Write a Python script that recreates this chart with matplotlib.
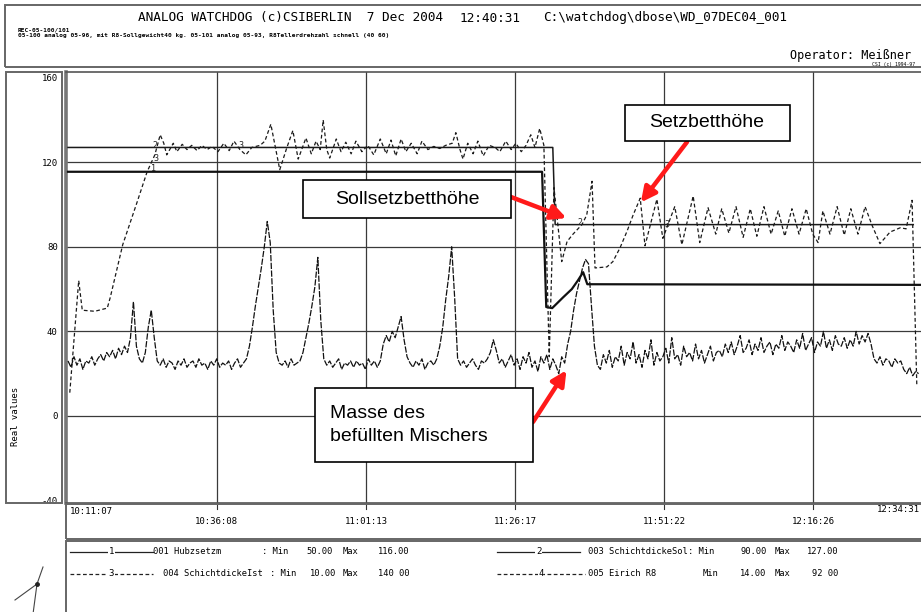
import matplotlib.pyplot as plt
import matplotlib.patches as patches
import matplotlib.transforms as mtrans
from matplotlib.lines import Line2D

plt.rcParams['font.family'] = ['DejaVu Sans Mono']

# --- data ---
start_time = '10:11:07'
tick_times = ['10:36:08', '11:01:13', '11:26:17', '11:51:22', '12:16:26']
end_time = '12:34:31'
y_ticks = [160, 120, 80, 40, 0, -40]

# 001 Hubzsetzm (minutes after start, value)
hub_t = [0.0, 79.7, 80.4, 81.4, 83.2, 84.7, 85.7, 86.6, 87.3, 143.4]
hub_v = [115.5, 115.5, 51.5, 51.0, 56.0, 60.0, 64.0, 68.0, 62.3, 62.0]

# 003 SchichtdickeSol
sol_t = [0.0, 81.5, 81.9, 142.1]
sol_v = [127.0, 127.0, 90.5, 90.5]

# 004 SchichtdickeIst
ist_t = [0.3, 1.8, 2.4, 4.5, 6.6, 7.1, 9.2, 11.6, 13.3, 14.6, 15.5, 16.1, 16.6,
         17.7, 18.3, 19.2, 20.0, 20.8, 21.7, 22.5, 23.4, 24.2, 25.2, 26.2, 27.1,
         27.9, 28.9, 29.9, 30.9, 32.3, 33.1, 34.1, 35.0, 35.6, 36.8, 37.8, 38.7,
         40.0, 40.9, 41.7, 42.4, 42.9, 43.5, 44.0, 45.1, 45.9, 46.7, 47.6, 48.4,
         49.4, 50.4, 51.4, 52.5, 53.5, 54.3, 55.1, 56.0, 56.8, 57.7, 58.7, 59.5,
         60.5, 61.5, 62.5, 63.5, 64.6, 65.2, 65.9, 66.4, 67.2, 68.1, 68.9, 69.8,
         70.8, 71.8, 72.6, 73.6, 74.5, 75.3, 76.2, 77.0, 77.8, 78.5, 79.3, 80.0,
         80.9, 81.7, 83.0, 83.9, 84.9, 86.4, 87.2, 88.1, 88.6, 90.6, 91.6, 92.8,
         94.0, 95.0, 96.2, 97.0, 99.0, 100.0, 102.0, 103.2, 105.1, 106.2, 107.6,
         108.9, 109.9, 111.1, 112.3, 113.5, 114.7, 115.8, 117.0, 118.2, 119.4,
         120.5, 121.7, 122.9, 124.1, 125.2, 126.1, 126.9, 128.1, 129.3, 130.5,
         131.6, 132.8, 134.0, 135.2, 136.5, 138.2, 139.9, 140.9, 141.9, 142.7]
ist_v = [11, 64, 50, 49.5, 51, 56, 81, 101, 115.5, 123.5, 133, 129, 123.5,
         129, 125, 128.5, 126, 128, 125.5, 128, 126, 127.5, 125, 129, 125.5,
         130, 126, 123.5, 127, 128, 130, 138, 125, 116.5, 127, 135, 121.5,
         131.5, 124, 130, 126, 140, 126, 122, 131, 125, 129.5, 124, 130,
         125, 128, 123.5, 131, 124, 130.5, 123, 131, 125, 129, 124, 130,
         126, 127.5, 126.5, 128, 129, 134, 126, 121.5, 129, 124, 130, 123,
         128, 127, 125, 130, 126, 129, 125, 128, 133, 127, 136, 128,
         28, 108, 73, 82.5, 86, 90.5, 95, 111, 70, 70.5, 73, 79.5,
         87.5, 95, 103, 80.5, 102.5, 84, 99, 81, 104, 82, 98.5,
         86, 98, 86.5, 99, 84.5, 98, 85, 99, 86, 97,
         85, 98, 86, 98, 86, 82, 97, 86, 99, 85.5,
         98, 86, 99, 90, 81.5, 87, 89, 88.5, 102, 14]

# 005 Eirich R8, one reading every half minute
eirich_step = 0.5
eirich_v = [26, 23, 28, 24, 27, 22, 26, 25, 28, 24,
            27, 29, 26, 30, 28, 31, 27, 32, 29, 33, 30,
            37, 54, 33, 27, 25, 30, 42, 50, 37, 26,
            24, 27, 23, 26, 25, 22, 26, 24, 27, 23, 25, 26, 23, 27, 24,
            25, 22, 26, 24, 27, 23, 25, 24, 26, 22, 25, 27, 23, 25,
            27, 33, 42, 52, 61, 70, 80, 92, 82, 50, 30, 25,
            24, 26, 23, 27, 24, 25, 26,
            30, 37, 44, 52, 61, 75, 45, 27,
            24, 26, 23, 25, 27, 22, 25, 24, 26, 23, 26, 24, 25, 22, 27, 24, 26, 23, 26,
            34, 38, 35, 40, 37, 42, 47, 36, 28,
            25, 23, 26, 24, 27, 22, 25, 26, 24, 27,
            33, 42, 55, 66, 80, 56, 27,
            24, 26, 23, 25, 27, 24, 22, 26, 25, 27,
            30, 36, 31, 25,
            27, 23, 26, 29, 24, 27, 22, 28, 25, 30, 23, 26, 21, 28, 25, 29, 22, 27, 24, 20, 28, 25,
            34, 40, 50, 58, 64, 70, 74, 72, 52, 33, 24,
            22, 29, 25, 31, 23, 28, 26, 33, 24, 30, 27, 35, 25, 29, 23, 31, 27, 36, 24, 30,
            26, 28, 32, 25, 37, 27, 29, 24, 33, 28, 30, 26, 34, 27, 31, 25, 29, 33, 26, 30,
            31, 28, 34, 30, 35, 29, 33, 38, 30, 32, 36, 29, 34, 31, 37, 30, 33, 35, 29, 34,
            32, 38, 31, 35, 33, 30, 36, 32, 39, 31, 34, 37, 30, 35, 33, 40, 32, 36, 31, 38,
            34, 33, 37, 32,
            36, 33, 40, 34, 38, 35, 39, 34,
            27, 25, 28, 24, 27, 26, 23, 27, 25, 26,
            22, 20, 23, 19, 21, 20]
eirich_t = [i * eirich_step for i in range(len(eirich_v))]

legend_rows = [
    ('001 Hubzsetzm', ': Min', '50.00', '116.00'),
    ('004 SchichtdickeIst', ': Min', '10.00', '140 00'),
    ('003 SchichtdickeSol', ': Min', '90.00', '127.00'),
    ('005 Eirich R8', 'Min', '14.00', '92 00'),
]


def minutes(s):
    h, m, sec = map(int, s.split(':'))
    h0, m0, s0 = map(int, start_time.split(':'))
    return ((h * 3600 + m * 60 + sec) - (h0 * 3600 + m0 * 60 + s0)) / 60.0


W, H = 921, 612
fig = plt.figure(figsize=(9.21, 6.12), dpi=100)


def fx(px):
    return px / W


def fy(py):
    return 1 - py / H


def frame(x0, y0, x1, y1, lw=1.4, color='#666666'):
    fig.add_artist(patches.Rectangle((fx(x0), fy(y1)), fx(x1) - fx(x0), fy(y0) - fy(y1),
                                     transform=fig.transFigure, fill=False, lw=lw, ec=color))


def fline(xs, ys, **kw):
    fig.add_artist(Line2D([fx(x) for x in xs], [fy(y) for y in ys],
                          transform=fig.transFigure, **kw))


def ftext(px, py, s, **kw):
    fig.text(fx(px), fy(py), s, **kw)


# header
frame(5, 5, 930, 67)
ftext(138, 18, 'ANALOG WATCHDOG (c)CSIBERLIN  7 Dec 2004', fontsize=9.2, va='center')
ftext(460, 18, '12:40:31', fontsize=9.2, va='center')
ftext(543, 18, 'C:\\watchdog\\dbose\\WD_07DEC04_001', fontsize=9.2, va='center')
ftext(18, 30, 'REC-05-100/101', fontsize=4.4, fontweight='bold', va='center')
ftext(18, 36, '05-100 analog 05-96, mit R8-Sollgewicht40 kg. 05-101 analog 05-93, '
      'R8Tellerdrehzahl schnell (40 60)', fontsize=4.4, fontweight='bold', va='center')
ftext(790, 56, 'Operator: Meißner', fontsize=8.5, va='center')
ftext(872, 64.5, 'CSI (c) 1994-97', fontsize=3.4, va='center')

# side box with the value scale
frame(6, 72, 62, 503)

# main plot
px_per_min = 853 / minutes(end_time)
x_left = -(68 - 66) / px_per_min
x_right = minutes(end_time) + (930 - 921) / px_per_min
ax_w = fx(930) - fx(66)
ax = fig.add_axes([fx(66), fy(503), ax_w, fy(72) - fy(503)])
ax.set_xlim(x_left, x_right)
ax.set_ylim(-41.2, 162.7)

for v in [0, 40, 80, 120]:
    ax.axhline(v, color='#3a3a3a', lw=0.9, zorder=1)
for t in tick_times:
    ax.axvline(minutes(t), color='#3a3a3a', lw=0.9, zorder=1)

ax.plot(sol_t, sol_v, color='#1a1a1a', lw=1.1, zorder=3)
ax.plot(hub_t, hub_v, color='#111111', lw=1.6, zorder=3)
ax.plot(ist_t, ist_v, color='#1a1a1a', lw=0.9, dashes=(3, 2), zorder=3)
ax.plot(eirich_t, eirich_v, color='#111111', lw=0.9, dashes=(5, 1.2), zorder=3)

# plotter curve numbers
for t, v, s in [(14.3, 117, '1'), (14.6, 128, '2'), (14.8, 122, '3'),
                (29.0, 128, '3'), (86.1, 91.5, '2'), (100.7, 90.5, '3')]:
    ax.text(t, v, s, fontsize=6, ha='center', va='center', color='#222222', zorder=4)

ax.set_yticks(y_ticks)
ax.set_yticklabels([str(v) for v in y_ticks], fontsize=6.5)
ax.tick_params(axis='y', length=0, pad=6)
ax.set_xticks([])
ax.set_ylabel('Real values', fontsize=6.5, labelpad=0)
ax.yaxis.set_label_coords((fx(20) - fx(66)) / ax_w, 0.2, transform=ax.transAxes)
for side in ['top', 'bottom']:
    ax.spines[side].set_color('#555555')
    ax.spines[side].set_linewidth(1.2)
ax.spines['left'].set_color('#777777')
ax.spines['left'].set_linewidth(2.6)
ax.spines['right'].set_visible(False)

# time scale box
frame(66, 504, 930, 539)
blend = mtrans.blended_transform_factory(ax.transData, fig.transFigure)
for t in tick_times:
    fig.text(minutes(t), fy(522), t, transform=blend, fontsize=6.5, ha='center', va='center')
    fig.add_artist(Line2D([minutes(t), minutes(t)], [fy(505), fy(509)], transform=blend,
                          color='#333333', lw=0.8))
ftext(70, 512, start_time, fontsize=6.5, va='center')
ftext(920, 509, end_time, fontsize=6.5, ha='right', va='center')

# legend box
frame(66, 541, 930, 640)
rows_pos = [(70, 153, 552, '-', '1'), (70, 153, 574, '--', '3'),
            (497, 580, 552, '-', '2'), (497, 585, 574, '--', '4')]
text_x = [(153, 262, 306, 343, 378), (163, 270, 310, 343, 378),
          (588, 688, 740, 775, 807), (588, 703, 740, 775, 812)]
for (x0, x1, py, ls, mark), (name, mn, lo, hi), (tx, mx, lx, mxx, hx) in zip(
        rows_pos, legend_rows, text_x):
    fline([x0, x1], [py, py], color='#222222', lw=0.9,
          linestyle='-' if ls == '-' else (0, (3, 2)))
    ftext((x0 + x1) / 2, py, mark, fontsize=6.5, ha='center', va='center',
          bbox=dict(fc='white', ec='none', pad=0.3))
    ftext(tx, py, name, fontsize=6.3, va='center')
    ftext(mx, py, mn, fontsize=6.3, va='center')
    ftext(lx, py, lo, fontsize=6.3, va='center')
    ftext(mxx, py, 'Max', fontsize=6.3, va='center')
    ftext(hx, py, hi, fontsize=6.3, va='center')

# little pointer drawing in the lower left corner
fline([43, 37, 15], [567, 584, 600], color='#444444', lw=0.8)
fline([37, 33], [584, 614], color='#444444', lw=0.8)
fig.add_artist(Line2D([fx(37)], [fy(584)], marker='o', ms=2.5, color='#222222',
                      transform=fig.transFigure))

# red call-outs
label_font = ['Liberation Sans', 'DejaVu Sans']
callouts = [
    ('Setzbetthöhe', (625, 105, 790, 141), (707, 123, 'center'), (687, 142), (96.3, 101)),
    ('Sollsetzbetthöhe', (303, 180, 511, 218), (407, 199, 'center'), (511, 197), (83.8, 93.6)),
    ('Masse des\nbefüllten Mischers', (315, 388, 533, 462), (330, 425, 'left'), (533, 422), (83.8, 21.6)),
]
for label, (bx0, by0, bx1, by1), (lx, ly, ha), tail, head in callouts:
    fig.add_artist(patches.Rectangle((fx(bx0), fy(by1)), fx(bx1) - fx(bx0), fy(by0) - fy(by1),
                                     transform=fig.transFigure, fc='white', ec='black',
                                     lw=1.2, zorder=10))
    fig.text(fx(lx), fy(ly), label, family=label_font, fontsize=14, ha=ha, va='center',
             linespacing=1.45, zorder=11)
    ax.annotate('', xy=head, xycoords='data', xytext=(fx(tail[0]), fy(tail[1])),
                textcoords='figure fraction',
                arrowprops=dict(arrowstyle='-|>', color='#ff1a1a', lw=3.2,
                                mutation_scale=22, shrinkA=0, shrinkB=0),
                annotation_clip=False, zorder=12)

fig.savefig('out.png', dpi=100)
